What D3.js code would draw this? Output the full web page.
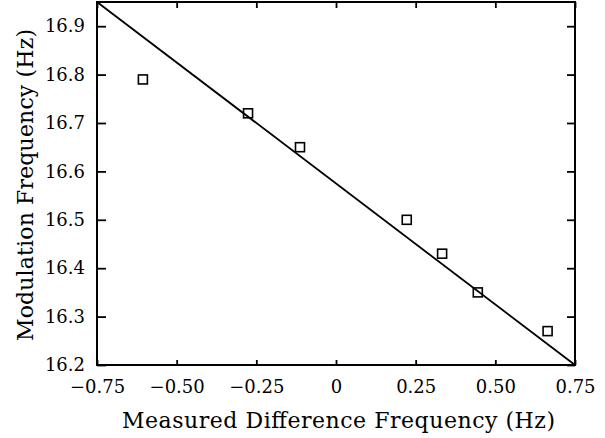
<!DOCTYPE html>
<html>
<head>
<meta charset="utf-8">
<script src="https://cdn.jsdelivr.net/npm/d3@7"></script>
<style>
  body { margin: 0; background: #fff; }
  text { font-family: "DejaVu Serif", "Liberation Serif", serif; fill: #000; }
</style>
</head>
<body>
<div id="chart"></div>
<script>
// measured points
var diffFreq = [-0.606, -0.276, -0.113, 0.222, 0.333, 0.445, 0.664];
var modFreq  = [16.79, 16.72, 16.65, 16.50, 16.43, 16.35, 16.27];

// fitted line end points
var fitX = [-0.75, 0.75];
var fitY = [16.95, 16.2];

var xTicks = [-0.75, -0.5, -0.25, 0, 0.25, 0.5, 0.75];
var xTickLabels = ["\u22120.75", "\u22120.50", "\u22120.25", "0", "0.25", "0.50", "0.75"];
var yTicks = [16.2, 16.3, 16.4, 16.5, 16.6, 16.7, 16.8, 16.9];

var width = 605, height = 438,
    margin = { left: 97, right: 30, top: 2, bottom: 73 };

function translate(x, y){ return "translate(" + x + "," + y + ")"; }

var ww = width - margin.left - margin.right,
    hh = height - margin.top - margin.bottom;

var xScale = d3.scaleLinear().domain([-0.75, 0.75]).range([0, ww]);
var yScale = d3.scaleLinear().domain([16.2, 16.95]).range([hh, 0]);

var svg = d3.select("#chart").append("svg")
    .attr("width", width).attr("height", height);

var g = svg.append("g").attr("transform", translate(margin.left, margin.top));

// frame
g.append("rect")
    .attr("x", 0).attr("y", 0).attr("width", ww).attr("height", hh)
    .attr("fill", "none").attr("stroke", "#000").attr("stroke-width", 2);

// axes, ticks pointing inward
var xAxis = d3.axisBottom(xScale).tickValues(xTicks)
    .tickSize(-5).tickPadding(15)
    .tickFormat(function(d, i){ return xTickLabels[i]; });
var gx = g.append("g").attr("class", "x-axis")
    .attr("transform", translate(0, hh)).call(xAxis);

var xAxisTop = d3.axisTop(xScale).tickValues(xTicks).tickSize(-6).tickFormat("");
var gxt = g.append("g").attr("class", "x-axis-top").call(xAxisTop);

var yAxis = d3.axisLeft(yScale).tickValues(yTicks)
    .tickSize(-9).tickPadding(12).tickFormat(d3.format(".1f"));
var gy = g.append("g").attr("class", "y-axis").call(yAxis);

var yAxisRight = d3.axisRight(yScale).tickValues(yTicks).tickSize(-8).tickFormat("");
var gyr = g.append("g").attr("class", "y-axis-right")
    .attr("transform", translate(ww, 0)).call(yAxisRight);

[gx, gxt, gy, gyr].forEach(function(a){
    a.select(".domain").remove();
    a.selectAll(".tick line").attr("stroke", "#000").attr("stroke-width", 1.8);
    a.selectAll("text").style("font-size", "18px")
        .style("font-family", "'DejaVu Serif', serif").attr("fill", "#000");
});

// fit line
var line = d3.line()
    .x(function(d){ return xScale(d[0]); })
    .y(function(d){ return yScale(d[1]); });
g.append("path")
    .datum(d3.zip(fitX, fitY))
    .attr("d", line)
    .attr("fill", "none").attr("stroke", "#000").attr("stroke-width", 1.8);

// points as open squares
var s = 9;
g.selectAll(".pt")
    .data(d3.zip(diffFreq, modFreq))
    .enter().append("rect")
    .attr("class", "pt")
    .attr("x", function(d){ return xScale(d[0]) - s / 2; })
    .attr("y", function(d){ return yScale(d[1]) - s / 2; })
    .attr("width", s).attr("height", s)
    .attr("fill", "none").attr("stroke", "#000").attr("stroke-width", 1.6);

// axis titles
svg.append("text")
    .attr("x", 122).attr("y", 428)
    .attr("textLength", 433).attr("lengthAdjust", "spacing")
    .style("font-size", "22px")
    .text("Measured Difference Frequency (Hz)");

svg.append("text")
    .attr("transform", "translate(33,341) rotate(-90)")
    .attr("textLength", 312).attr("lengthAdjust", "spacing")
    .style("font-size", "22px")
    .text("Modulation Frequency (Hz)");
</script>
</body>
</html>
